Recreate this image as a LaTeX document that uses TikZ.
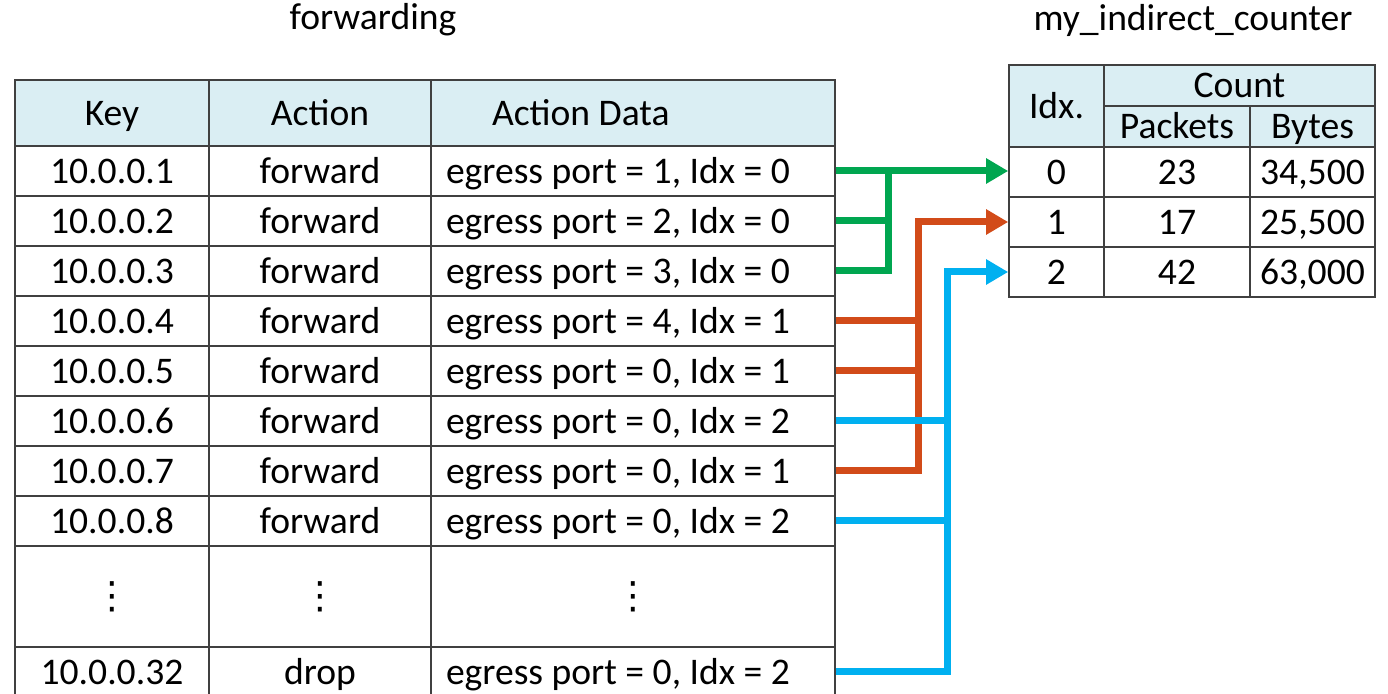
\documentclass[tikz,border=0pt]{standalone}
\usepackage{fontspec}
\setmainfont{Carlito}
\newfontfamily\symfont{DejaVu Sans}
\usetikzlibrary{arrows.meta,calc}
\definecolor{hdrblue}{RGB}{218,238,243}
\definecolor{fwdgreen}{RGB}{0,166,80}
\definecolor{fwdorange}{RGB}{210,75,25}
\definecolor{fwdblue}{RGB}{0,176,240}
\newcommand\rowdots{{\symfont ⋮}\hspace{11pt}}
\tikzset{
  cell/.style={draw=black!75, line width=0.8pt, inner sep=0pt, text height=14pt, text depth=1.9pt,
    font=\fontsize{18.8pt}{22pt}\selectfont},
  head/.style={cell, fill=hdrblue},
  datacell/.style={cell, text width=187pt, inner xsep=7.5pt, align=flush left, minimum height=25pt},
  dotcell/.style={cell, minimum height=50.5pt},
  wire/.style={line width=3.5pt},
  linkarrow/.style={-{Triangle[length=11pt,width=12pt]}},
}
\begin{document}
\begin{tikzpicture}[x=0.5pt, y=-0.5pt]
    \useasboundingbox (0,0) rectangle (1388,694);

    % Titles
    \node[font=\fontsize{18.8pt}{22pt}\selectfont] (fwdtitle) at (373,20) {forwarding};
    \node[font=\fontsize{18.8pt}{22pt}\selectfont] (cnttitle) at (1193,20) {my\_indirect\_counter};

    % forwarding table
    \node[head, minimum width=97pt, minimum height=33pt] (keyh) at (112,113) {Key};
    \node[head, minimum width=111pt, minimum height=33pt] (acth) at (320,113) {Action};
    \node[head, text width=141pt, inner xsep=30.5pt, align=flush left, minimum height=33pt] (datah) at (633,113) {\mbox{Action Data}};
    \foreach \n/\port/\idx [count=\i] in {1/1/0,2/2/0,3/3/0,4/4/1,5/0/1,6/0/2,7/0/1,8/0/2} {
        \node[cell, minimum width=97pt, minimum height=25pt] (k\n) at (112,121+50*\i) {10.0.0.\n};
        \node[cell, minimum width=111pt, minimum height=25pt] (a\n) at (320,121+50*\i) {forward};
        \node[datacell] (d\n) at (633,121+50*\i) {\mbox{egress port = \port, Idx = \idx}};
    }
    \node[dotcell, minimum width=97pt] (kdots) at (112,596.5) {\rowdots};
    \node[dotcell, minimum width=111pt] (adots) at (320,596.5) {\rowdots};
    \node[dotcell, minimum width=202pt] (ddots) at (633,596.5) {\rowdots};
    \node[cell, minimum width=97pt, minimum height=25pt] (k32) at (112,672) {10.0.0.32};
    \node[cell, minimum width=111pt, minimum height=25pt] (a32) at (320,672) {drop};
    \node[datacell] (d32) at (633,672) {\mbox{egress port = 0, Idx = 2}};

    % counter table
    \node[head, minimum width=47.5pt, minimum height=41pt] (idxh) at (1056.5,106) {Idx.};
    \node[head, minimum width=135.5pt, minimum height=20.5pt] (counth) at (1239.5,85.5) {Count};
    \node[head, minimum width=73pt, minimum height=20.5pt] (pkth) at (1177,126.5) {Packets};
    \node[head, minimum width=62.5pt, minimum height=20.5pt] (byteh) at (1312.5,126.5) {Bytes};
    \foreach \n/\pk/\by [count=\i] in {0/23/{34,500},1/17/{25,500},2/42/{63,000}} {
        \node[cell, minimum width=47.5pt, minimum height=25pt] (i\n) at (1056.5,122+50*\i) {\n};
        \node[cell, minimum width=73pt, minimum height=25pt] (p\n) at (1177,122+50*\i) {\pk};
        \node[cell, minimum width=62.5pt, minimum height=25pt] (b\n) at (1312.5,122+50*\i) {\by};
    }

    % Idx = 0
    \draw[wire, fwdgreen, linkarrow] (d1.east) -- (d1.east -| i0.west);
    \draw[wire, fwdgreen] (d2.east) -- ++(53,0);
    \draw[wire, fwdgreen] (d3.east) -- ++(53,0) -- ($(d1.east)+(53,0)$);

    % Idx = 1
    \draw[wire, fwdorange, linkarrow] (d7.east) -- ++(83,0) |- (i1.west);
    \draw[wire, fwdorange] (d4.east) -- ++(83,0);
    \draw[wire, fwdorange] (d5.east) -- ++(83,0);

    % Idx = 2
    \draw[wire, fwdblue, linkarrow] (d32.east) -- ++(112,0) |- (i2.west);
    \draw[wire, fwdblue] (d6.east) -- ++(112,0);
    \draw[wire, fwdblue] (d8.east) -- ++(112,0);
\end{tikzpicture}
\end{document}
